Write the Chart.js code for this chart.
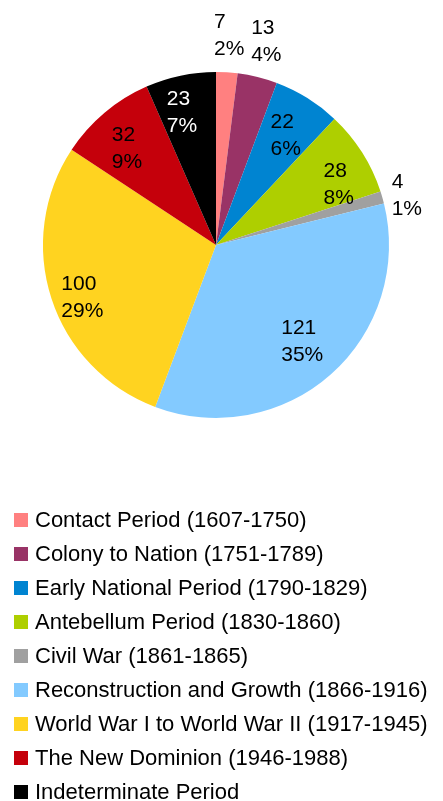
<!DOCTYPE html>
<html>
<head>
<meta charset="utf-8">
<script src="https://cdn.jsdelivr.net/npm/chart.js@4.4.0/dist/chart.umd.min.js"></script>
<style>
  html, body { margin: 0; padding: 0; background: #fff; }
  #wrap { position: relative; width: 443px; height: 801px; overflow: hidden; }
  #c { position: absolute; left: 0; top: 0; }
  #legend { position: absolute; left: 0; top: 503px; width: 443px; font-family: "Liberation Sans", Arial, sans-serif; font-size: 22px; color: #000; }
  .row { position: relative; height: 34px; line-height: 34px; white-space: nowrap; }
  .box { position: absolute; left: 14px; top: 10px; width: 14px; height: 14px; }
  .lbl { position: absolute; left: 35px; top: 0; }
</style>
</head>
<body>
<div id="wrap">
  <canvas id="c" width="443" height="801"></canvas>
  <div id="legend"></div>
</div>
<script>
const categories = [
  "Contact Period (1607-1750)",
  "Colony to Nation (1751-1789)",
  "Early National Period (1790-1829)",
  "Antebellum Period (1830-1860)",
  "Civil War (1861-1865)",
  "Reconstruction and Growth (1866-1916)",
  "World War I to World War II (1917-1945)",
  "The New Dominion (1946-1988)",
  "Indeterminate Period"
];
const counts = [7, 13, 22, 28, 4, 121, 100, 32, 23];
const sliceColors = ["#FF8080", "#993366", "#0084D1", "#AECF00", "#A0A0A0", "#83CAFF", "#FFD320", "#C5000B", "#000000"];
const labelTextColors = ["#000", "#000", "#000", "#000", "#000", "#000", "#000", "#000", "#fff"];

// label placement style (radius factor, angle tweak in degrees)
const labelRadius = [1.214, 1.212, 0.75, 0.79, 1.139, 0.75, 0.83, 0.757, 0.79];
const labelAngleTweak = [0, 0, 0.6, 6.2, 1.5, 0, -3.4, -2.7, -2.6];

const total = counts.reduce((a, b) => a + b, 0);

const labelPlugin = {
  id: 'sliceLabels',
  afterDatasetsDraw(chart) {
    const ctx = chart.ctx;
    const meta = chart.getDatasetMeta(0);
    ctx.save();
    ctx.font = '21px "Liberation Sans", Arial, sans-serif';
    ctx.textBaseline = 'middle';
    ctx.textAlign = 'left';
    meta.data.forEach((arc, i) => {
      const p = arc.getProps(['x', 'y', 'startAngle', 'endAngle', 'outerRadius'], true);
      const mid = (p.startAngle + p.endAngle) / 2 + labelAngleTweak[i] * Math.PI / 180;
      const r = p.outerRadius * labelRadius[i];
      const cx = p.x + Math.cos(mid) * r;
      const cy = p.y + Math.sin(mid) * r;
      const lines = [String(counts[i]), Math.round(counts[i] / total * 100) + '%'];
      const w = Math.max(...lines.map(s => ctx.measureText(s).width));
      const lh = 27;
      ctx.fillStyle = labelTextColors[i];
      lines.forEach((s, k) => {
        ctx.fillText(s, cx - w / 2, cy + (k - 0.5) * lh);
      });
    });
    ctx.restore();
  }
};

new Chart(document.getElementById('c'), {
  type: 'pie',
  data: {
    labels: categories,
    datasets: [{
      data: counts,
      backgroundColor: sliceColors,
      borderWidth: 0
    }]
  },
  options: {
    responsive: false,
    animation: false,
    layout: { padding: { left: 43, right: 54, top: 72, bottom: 383 } },
    plugins: {
      legend: { display: false },
      tooltip: { enabled: false }
    }
  },
  plugins: [labelPlugin]
});

const legend = document.getElementById('legend');
categories.forEach((name, i) => {
  const row = document.createElement('div');
  row.className = 'row';
  const box = document.createElement('span');
  box.className = 'box';
  box.style.background = sliceColors[i];
  const lbl = document.createElement('span');
  lbl.className = 'lbl';
  lbl.textContent = name;
  row.appendChild(box);
  row.appendChild(lbl);
  legend.appendChild(row);
});
</script>
</body>
</html>
